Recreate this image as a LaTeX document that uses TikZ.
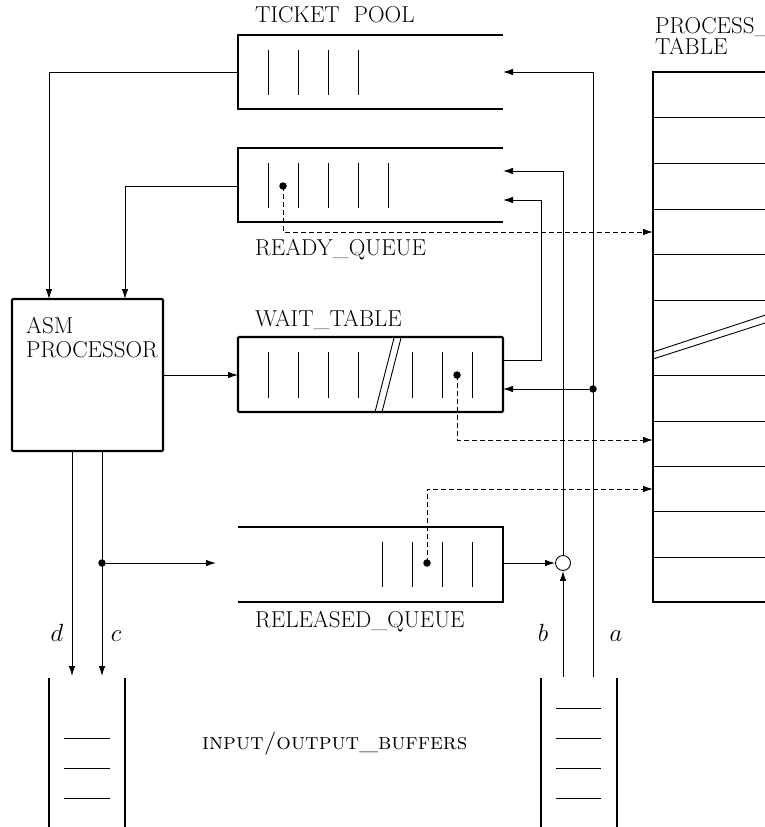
\documentclass[tikz,border=0pt]{standalone}
\usetikzlibrary{arrows.meta}
\begin{document}
\begin{tikzpicture}[x=1pt,y=-1pt,
  thickln/.style={line width=2.1pt},
  thinln/.style={line width=0.9pt},
  arr/.style={thinln,-{Latex[length=10pt,width=6.5pt]}},
  darr/.style={thinln,dash pattern=on 5pt off 3pt,-{Latex[length=10pt,width=6.5pt]}},
  lbl/.style={font=\fontsize{23}{27}\selectfont,inner sep=0pt,anchor=base west},
  mlbl/.style={font=\fontsize{23}{27}\selectfont,inner sep=0pt,anchor=base},
  dotn/.style={circle,fill,inner sep=0pt,minimum size=7.5pt},
  cell/.style={thinln}
]
\useasboundingbox (0,0) rectangle (765,827);
\clip (0,0) rectangle (765,827);

% ---------- labels ----------
\node[lbl] (tplbl) at (255,23) {TICKET\ \ POOL};
\node[lbl] (rqlbl) at (255,255) {READY\_QUEUE};
\node[lbl] (wtlbl) at (255,326) {WAIT\_TABLE};
\node[lbl] (rlqlbl) at (255,627) {RELEASED\_QUEUE};
\node[lbl] (iolbl) at (202,749) {\textsc{input/output\_buffers}};
\node[lbl] (ptlbl1) at (655,33) {PROCESS\_};
\node[lbl] (ptlbl2) at (655,54) {TABLE};
\node[lbl] (asm1) at (26,333) {ASM};
\node[lbl] (asm2) at (26,357) {PROCESSOR};
\node[mlbl] (ld) at (57,641) {$d$};
\node[mlbl] (lc) at (116,641) {$c$};
\node[mlbl] (lb) at (543,641) {$b$};
\node[mlbl] (la) at (616,641) {$a$};

% ---------- ticket pool ----------
\draw[thickln] (503,35) -- (238,35) -- (238,109) -- (503,109);
\foreach \x in {268,298,328,358} \draw[cell] (\x,50) -- (\x,95);
\coordinate (tpL) at (238,72);
\coordinate (tpR) at (503,72);

% ---------- ready queue ----------
\draw[thickln] (503,148) -- (238,148) -- (238,222) -- (503,222);
\foreach \x in {268,298,328,358,388} \draw[cell] (\x,163) -- (\x,208);
\node[dotn] (rqdot) at (283,186) {};
\coordinate (rqL) at (238,186);
\coordinate (rqR1) at (503,171);
\coordinate (rqR2) at (503,200);

% ---------- wait table ----------
\draw[thickln,rounded corners=1pt] (238,337) rectangle (503,412);
\foreach \x in {268,298,328,358,412,442,472} \draw[cell] (\x,352) -- (\x,398);
\draw[thinln] (375,412) -- (394,338);
\draw[thinln] (382,412) -- (401,338);
\node[dotn] (wtdot) at (457,375) {};
\coordinate (wtL) at (238,375);
\coordinate (wtR1) at (503,360);
\coordinate (wtR2) at (503,389);

% ---------- released queue ----------
\draw[thickln] (238,527) -- (503,527) -- (503,602) -- (238,602);
\foreach \x in {382,412,442,472} \draw[cell] (\x,542) -- (\x,587);
\node[dotn] (rlqdot) at (427,563) {};
\coordinate (rlqR) at (503,563);
\coordinate (rlqIn) at (216,563);

% ---------- ASM processor ----------
\draw[thickln,rounded corners=1pt] (12,299) rectangle (163,451);
\coordinate (asmT1) at (49,299);
\coordinate (asmT2) at (125,299);
\coordinate (asmR) at (163,375);
\coordinate (asmB1) at (72,451);
\coordinate (asmB2) at (102,451);

% ---------- process table ----------
\draw[thickln] (790,72) -- (653,72) -- (653,602) -- (790,602);
\foreach \y in {117,163,209,254,300,375,421,466,511,557} \draw[cell] (653,\y) -- (790,\y);
\draw[thinln] (653,352) -- (790,307);
\draw[thinln] (653,359) -- (790,315);
\coordinate (pt1) at (653,232);
\coordinate (pt2) at (653,440);
\coordinate (pt3) at (653,489);

% ---------- buffers ----------
\draw[thickln] (49,678) -- (49,830);
\draw[thickln] (125,678) -- (125,830);
\foreach \y in {738,768,798} \draw[cell] (64,\y) -- (110,\y);
\draw[thickln] (541,678) -- (541,830);
\draw[thickln] (617,678) -- (617,830);
\foreach \y in {708,738,768,798} \draw[cell] (556,\y) -- (601,\y);
\coordinate (bufD) at (72,676);
\coordinate (bufC) at (102,676);
\coordinate (bufB) at (563,677);
\coordinate (bufA) at (593,677);

% ---------- junctions ----------
\node[circle,draw,thinln,minimum size=15pt,inner sep=0pt] (junc) at (563,563) {};
\node[dotn] (cdot) at (102,563) {};
\node[dotn] (adot) at (593,389) {};

% ---------- connectors ----------
\draw[arr] (tpL) -| (asmT1);
\draw[arr] (rqL) -| (asmT2);
\draw[arr] (asmR) -- (wtL);
\draw[arr] (asmB1) -- (bufD);
\draw[arr] (asmB2) -- (bufC);
\draw[arr] (cdot) -- (rlqIn);
\draw[arr] (rlqR) -- (junc.west);
\draw[arr] (bufB) -- (junc.south);
\draw[arr] (junc.north) |- (rqR1);
\draw[arr] (bufA) |- (tpR);
\draw[arr] (adot) -- (wtR2);
\draw[arr] (wtR1) -| (541,200) -- (rqR2);
\draw[darr] (rqdot.center) |- (pt1);
\draw[darr] (wtdot.center) |- (pt2);
\draw[darr] (rlqdot.center) |- (pt3);
\end{tikzpicture}
\end{document}
